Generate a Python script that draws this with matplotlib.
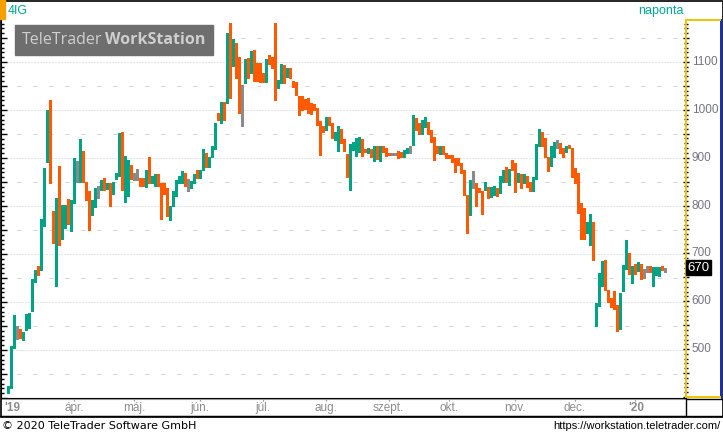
import numpy as np
import matplotlib
matplotlib.use("Agg")
import matplotlib.pyplot as plt
from matplotlib.patches import Rectangle
from matplotlib.lines import Line2D
from matplotlib.ticker import MultipleLocator, FixedLocator
import matplotlib.transforms as mtransforms

# daily OHLC, 4IG, Mar 2019 - Jan 2020
opens = [412, 424, 524, 541, 542, 528, 541, 560, 589, 643, 669, 671, 776, 893, 1019, 780, 688, 849, 765, 765,
         799, 768, 841, 877, 870, 907, 841, 822, 782, 817, 829, 833, 847, 836, 839, 824, 860, 862, 947, 841,
         870, 881, 862, 858,
         858, 858, 841, 901, 849, 849, 867, 846, 841, 836, 772, 806, 831, 848, 858, 867, 851, 848, 849, 869,
         860, 876, 903, 883, 903, 919, 990, 987, 1015, 1042, 1157, 1112, 1124, 1094, 1049, 1058, 1105, 1094, 1124, 1091,
         1096, 1078, 1076, 1104, 1101, 1170, 1052, 1058, 1090, 1069, 1083, 1059, 1050, 1029, 1019, 1017, 1015, 1012, 1010, 1002,
         977, 966, 958, 983, 969, 941, 931, 950, 939, 908, 896, 923, 910, 912, 932, 917, 912, 919, 906, 919,
         898, 924, 919, 909, 908, 908,
         913, 910, 906, 910, 917, 927, 969, 965, 957, 969, 976, 951, 937, 918, 910, 922, 906, 906, 904, 901,
         898, 889, 876, 823, 799, 856, 847, 832, 832, 833, 837, 823, 830, 838, 849, 849, 867, 858, 890, 889, 858,
         865, 851, 860, 849, 849, 869, 926, 946, 940, 903, 895, 907, 928, 930, 914, 914, 928, 921, 877, 867,
         803, 751, 745, 749, 766, 555, 599, 659, 680, 624, 608, 605, 594, 544, 622, 669, 701, 650, 678, 674,
         680, 659, 674, 673, 666, 671, 672, 669, 667]
closes = [423, 508, 532, 541, 528, 535, 554, 572, 633, 663, 664, 755, 867, 997, 849, 724, 815, 763, 768, 780,
          765, 812, 898, 877, 897, 849, 839, 787, 812, 832, 829, 837, 834, 840, 837, 849, 862, 940, 862, 878,
          878, 858, 862, 858,
          856, 841, 865, 849, 858, 858, 848, 841, 834, 781, 799, 820, 845, 855, 867, 849, 851, 850, 863, 860,
          874, 900, 883, 898, 915, 972, 983, 1012, 1008, 1149, 1101, 1119, 1088, 1030, 1049, 1092, 1077, 1110, 1077, 1078,
          1069, 1069, 1100, 1097, 1089, 1052, 1056, 1087, 1058, 1085, 1069, 1052, 1038, 996, 1015, 1010, 1006, 1004, 1003, 979,
          962, 961, 979, 969, 955, 944, 952, 941, 915, 902, 927, 932, 919, 941, 913, 913, 918, 902, 918, 913,
          919, 918, 905, 907, 908, 908,
          903, 908, 913, 918, 917, 965, 962, 955, 972, 978, 951, 936, 911, 911, 922, 911, 904, 901, 892, 897,
          897, 878, 837, 799, 851, 856, 839, 830, 830, 839, 826, 832, 833, 836, 861, 861, 862, 876, 885, 858, 860,
          854, 865, 844, 834, 858, 924, 931, 937, 910, 891, 914, 928, 928, 912, 910, 919, 923, 860, 849, 803,
          751, 745, 756, 771, 690, 591, 659, 671, 624, 613, 605, 594, 541, 617, 660, 702, 659, 676, 669, 680,
          659, 659, 674, 666, 673, 673, 673, 666, 667]
highs = [425, 508, 572, 549, 543, 537, 576, 577, 647, 667, 674, 772, 879, 999, 1021, 789, 817, 884, 803, 803,
         815, 812, 900, 893, 940, 915, 851, 831, 812, 838, 841, 855, 859, 848, 848, 849, 868, 952, 954, 905,
         896, 885, 868, 877,
         859, 858, 875, 903, 862, 867, 867, 848, 848, 838, 800, 831, 855, 862, 872, 869, 856, 853, 867, 876,
         876, 919, 910, 903, 924, 972, 994, 1017, 1017, 1160, 1181, 1148, 1140, 1110, 1052, 1106, 1108, 1122, 1124, 1098,
         1098, 1078, 1106, 1114, 1111, 1182, 1062, 1096, 1093, 1087, 1087, 1061, 1059, 1029, 1029, 1022, 1024, 1015, 1012, 1004,
         977, 966, 986, 986, 972, 955, 966, 960, 939, 908, 930, 934, 942, 943, 939, 918, 920, 919, 926, 925,
         926, 926, 920, 910, 910, 910,
         914, 913, 917, 921, 924, 990, 983, 972, 979, 986, 976, 958, 944, 924, 924, 924, 910, 906, 906, 901,
         899, 889, 876, 823, 854, 872, 847, 837, 832, 851, 839, 840, 842, 838, 862, 875, 881, 878, 896, 889, 868,
         867, 867, 862, 851, 860, 930, 960, 955, 942, 903, 924, 933, 938, 932, 921, 924, 928, 921, 880, 869,
         806, 796, 766, 783, 766, 598, 660, 685, 687, 626, 608, 622, 594, 618, 677, 730, 702, 676, 680, 683,
         680, 669, 675, 675, 673, 673, 673, 675, 670]
lows = [410, 420, 504, 522, 524, 520, 541, 546, 581, 641, 656, 667, 758, 891, 848, 722, 633, 719, 731, 754,
        763, 747, 806, 849, 849, 849, 813, 749, 782, 797, 817, 833, 833, 835, 799, 824, 856, 862, 834, 808,
        820, 857, 855, 855,
        841, 841, 840, 848, 848, 841, 841, 773, 824, 779, 771, 799, 820, 848, 848, 841, 831, 838, 848, 858,
        858, 876, 882, 882, 902, 918, 980, 973, 980, 1015, 1025, 1091, 1067, 994, 966, 1056, 1067, 1077, 1061, 1060,
        1059, 1059, 1059, 1095, 1087, 1021, 1045, 1056, 1056, 1069, 1066, 1048, 1032, 990, 1000, 1003, 993, 992, 1000, 969,
        906, 955, 958, 968, 941, 938, 915, 931, 915, 861, 833, 917, 905, 912, 905, 912, 910, 902, 893, 897,
        893, 912, 904, 907, 906, 906,
        901, 902, 902, 910, 910, 927, 958, 951, 951, 965, 951, 934, 896, 910, 909, 909, 901, 899, 892, 871,
        885, 868, 823, 743, 781, 837, 800, 830, 783, 833, 816, 819, 823, 820, 827, 849, 851, 844, 875, 830, 851,
        837, 847, 840, 832, 832, 856, 926, 924, 903, 872, 883, 902, 921, 910, 902, 912, 921, 860, 848, 786,
        732, 732, 744, 718, 688, 551, 591, 634, 624, 599, 590, 585, 539, 544, 622, 668, 659, 639, 659, 664,
        648, 650, 663, 662, 634, 657, 655, 666, 663]

month_pos = [22, 42, 64, 85, 106, 127, 147, 169, 189, 209]
month_labels = ["ápr.", "máj.", "jún.", "júl.", "aug.", "szept.", "okt.", "nov.", "dec.", "'20"]
year_label = "'19"
price_ticks = [500, 600, 700, 800, 900, 1000, 1100]
last_price = 670

W, H = 723, 434
def fx(p):
    return p / W
def fy(p):
    return 1 - p / H

green = "#00a383"
orange = "#ff5a00"
grey = "#8a8a8a"
teal = "#00a896"

plt.rcParams["font.family"] = ["Liberation Sans", "DejaVu Sans"]

fig = plt.figure(figsize=(W / 100, H / 100), dpi=100)

xl = (-2.43, 225.9)
yl = (400, 1187.5)

ax = fig.add_axes([fx(1), fy(398), 685 / W, 378 / H])
ax.set_xlim(*xl)
ax.set_ylim(*yl)
for s in ["top", "right"]:
    ax.spines[s].set_visible(False)
ax.spines["left"].set_color("black")
ax.spines["bottom"].set_color("black")
ax.yaxis.set_major_locator(MultipleLocator(50))
ax.yaxis.set_minor_locator(MultipleLocator(10))
ax.tick_params(axis="y", which="major", direction="in", length=4, width=1, labelleft=False)
ax.tick_params(axis="y", which="minor", direction="in", length=2.5, width=1)
ax.xaxis.set_major_locator(FixedLocator(month_pos))
ax.tick_params(axis="x", which="major", direction="out", length=2, color="#999999", labelbottom=False)

# grid
for v in range(500, 1200, 100):
    ax.axhline(v, color="#c8c8c8", lw=0.72, linestyle=(0, (1, 2)), zorder=0)
for v in range(450, 1200, 100):
    ax.axhline(v, color="#d2d2d2", lw=0.72, linestyle=(0, (4, 12)), zorder=0)

o = np.array(opens, dtype=float)
c = np.array(closes, dtype=float)
h = np.array(highs, dtype=float)
l = np.array(lows, dtype=float)
x = np.arange(len(o))
cols = np.where(c > o, green, np.where(c < o, orange, grey))

ax.vlines(x, l, h, colors=cols, linewidth=0.9, zorder=2, antialiased=False)
body = np.abs(c - o)
minh = 2.2
bottom = np.minimum(o, c) - np.where(body < minh, (minh - body) / 2, 0)
ax.bar(x, np.maximum(body, minh), bottom=bottom, width=0.72, color=cols, linewidth=0, zorder=3,
       antialiased=False)

# right price panel
axr = fig.add_axes([fx(686), fy(397), 35 / W, 377 / H])
axr.set_ylim(*yl)
axr.set_xlim(0, 1)
axr.set_xticks([])
axr.spines["left"].set_color("#f2c200")
axr.spines["top"].set_color("#f2c200")
axr.spines["bottom"].set_color("#f2c200")
axr.spines["right"].set_color("#1c2f9a")
for s in ["left", "top", "bottom", "right"]:
    axr.spines[s].set_linewidth(1.4)
axr.yaxis.set_major_locator(MultipleLocator(50))
axr.yaxis.set_minor_locator(MultipleLocator(10))
axr.tick_params(axis="y", which="major", direction="inout", length=5, width=1, color="black", labelleft=False)
axr.tick_params(axis="y", which="minor", direction="inout", length=3, width=1, color="black")
trans = mtransforms.blended_transform_factory(axr.transAxes, axr.transData)
for v in price_ticks:
    axr.text(0.16, v, str(v), transform=trans, ha="left", va="center", fontsize=8.5, color="#747484")
axr.text(0.04, last_price, str(last_price), transform=trans, ha="left", va="center", fontsize=9.5,
         color="white", bbox=dict(facecolor="black", edgecolor="black", pad=1.2), zorder=5)

# date band
axd = fig.add_axes([fx(1), fy(416), 684 / W, 17 / H])
axd.set_xlim(*xl)
axd.set_ylim(0, 1)
axd.set_xticks([])
axd.set_yticks([])
axd.patch.set_alpha(0)
axd.spines["left"].set_visible(False)
axd.spines["right"].set_visible(False)
axd.spines["top"].set_color("#999999")
axd.spines["bottom"].set_color("black")
axd.text(1.2, 0.45, year_label, ha="center", va="center", fontsize=8.5, color="#8c8c8c", fontweight="bold")
for p, lab in zip(month_pos, month_labels):
    fw = "bold" if lab.startswith("'") else "normal"
    axd.text(p + (0.5 if fw == "bold" else 0), 0.45, lab, ha="center", va="center", fontsize=8.5,
             color="#8c8c8c", fontweight=fw)

# frame and header
fig.add_artist(Rectangle((fx(0.5), fy(416.5)), (W - 1) / W, 416 / H, transform=fig.transFigure,
                         fill=False, edgecolor="black", linewidth=1.2, zorder=6))
fig.add_artist(Line2D([fx(722), fx(722)], [fy(20), fy(398)], color="#1c2f9a", lw=1.4, zorder=7))
fig.add_artist(Line2D([0, 1], [fy(416), fy(416)], color="black", lw=1.0, zorder=7))
fig.add_artist(Line2D([fx(685.5), fx(685.5)], [fy(399), fy(416)], color="black", lw=1.0, zorder=7))
fig.add_artist(Line2D([fx(685.5), 1], [fy(399), fy(399)], color="black", lw=1.0, zorder=7))
fig.add_artist(Rectangle((0, fy(19)), 5 / W, 19 / H, transform=fig.transFigure, color="#f5a000", zorder=7))
fig.text(fx(8), fy(10.5), "4IG", ha="left", va="center", fontsize=9, color=teal)
fig.text(fx(684), fy(11), "naponta", ha="right", va="center", fontsize=9, color=teal)

# logo
fig.add_artist(Rectangle((fx(15), fy(55)), 198 / W, 30 / H, transform=fig.transFigure,
                         color="#6e6e6e", zorder=8))
fig.text(fx(22), fy(40.5), "TeleTrader", ha="left", va="center", fontsize=11.5, color="#cfcfcf",
         family=["Open Sans", "DejaVu Sans"], zorder=9)
fig.text(fx(105), fy(40.5), "WorkStation", ha="left", va="center", fontsize=11.5, color="#cfcfcf",
         family=["Open Sans", "DejaVu Sans"], fontweight="bold", zorder=9)

# footer
fig.text(fx(2), fy(426), "© 2020 TeleTrader Software GmbH", ha="left", va="center", fontsize=8,
         color="black", family=["DejaVu Sans"])
fig.text(fx(720), fy(426), "https://workstation.teletrader.com/", ha="right", va="center", fontsize=8,
         color="black")

fig.savefig("out.png", dpi=100)
